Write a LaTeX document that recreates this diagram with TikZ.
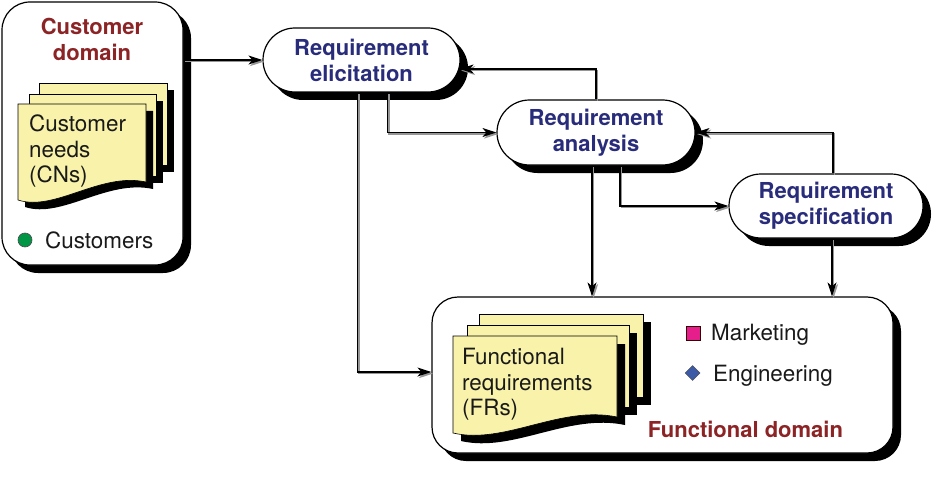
\documentclass[tikz,border=0pt]{standalone}
\usepackage{fontspec}
\setmainfont{TeX Gyre Heros}
\usetikzlibrary{shapes.misc,shapes.geometric,shadows,arrows.meta,calc}
\definecolor{domred}{RGB}{140,36,38}
\definecolor{procblue}{RGB}{40,44,122}
\definecolor{sheet}{RGB}{248,242,170}
\definecolor{dotgreen}{RGB}{0,150,70}
\definecolor{magsq}{RGB}{230,30,140}
\definecolor{diablue}{RGB}{60,90,165}
\definecolor{lineGray}{RGB}{150,150,150}
\newcommand\myconn[1]{%
  \begin{scope}[transform canvas={xshift=1.6pt,yshift=-1.6pt}]\draw[connshade] #1;\end{scope}
  \draw[conn] #1;}
\begin{document}
\begin{tikzpicture}[x=1pt,y=-1pt,
 shad/.style={drop shadow={shadow xshift=8pt,shadow yshift=-8pt,fill=black,opacity=1}},
 process/.style={rounded rectangle, draw=black, line width=1.2pt, fill=white, shad, minimum width=197pt, minimum height=64pt, inner sep=0pt, align=center, font=\fontsize{22}{26}\selectfont\bfseries, text=procblue},
 domainbox/.style={rectangle, rounded corners=28pt, draw=black, line width=1.2pt, fill=white, shad, inner sep=0pt},
 titletext/.style={font=\fontsize{22}{26}\selectfont\bfseries, text=domred, align=center, inner sep=0pt},
 bodytext/.style={font=\fontsize{22.4}{25.5}\selectfont, align=left, inner sep=0pt, text=black!90},
 sheetpage/.style={draw=black, line width=0.6pt, fill=sheet},
 conn/.style={line width=1.2pt, draw=black, -{Stealth[length=14pt,width=9pt,inset=4pt]}},
 connshade/.style={line width=1.4pt, draw=lineGray, -{Stealth[length=14pt,width=9pt,inset=4pt]}}
]
\useasboundingbox (0,0) rectangle (936,492);

% domain boxes
\node[domainbox, minimum width=181pt, minimum height=263pt] (cd) at (92.5,133.5) {};
\node[domainbox, rounded corners=26pt, minimum width=461pt, minimum height=156pt] (fd) at (662.5,375) {};

% process nodes
\node[process] (elic) at (361.5,60) {Requirement\\elicitation};
\node[process, minimum width=198pt, minimum height=65pt] (ana) at (596,132.5) {Requirement\\analysis};
\node[process, minimum width=194pt] (spec) at (826,206) {Requirement\\specification};

% customer domain content
\node[titletext, anchor=north] (cdt) at (92,18) {Customer\\domain};
\fill[black, shift={(7,7)}] (39,83) rectangle (167,165);
\path[sheetpage] (39,83) rectangle (167,165);
\fill[black, shift={(7,7)}] (29,94) rectangle (156,176);
\path[sheetpage] (29,94) rectangle (156,176);
\fill[black, shift={(7,7)}] (18,104) -- (146,104) -- (146,182) .. controls (100,172) and (55,212) .. (18,200) -- cycle;
\path[sheetpage] (18,104) -- (146,104) -- (146,182) .. controls (100,172) and (55,212) .. (18,200) -- cycle;
\node[bodytext, anchor=north west] (cn) at (29,115) {Customer\\needs\\(CNs)};
\node[circle, draw=black!70, line width=0.6pt, fill=dotgreen, minimum size=14pt, inner sep=0pt] (dot) at (25,240) {};
\node[bodytext, anchor=base west] (cus) at (45,248) {Customers};

% functional domain content
\fill[black, shift={(8,8)}] (479,314) rectangle (643,397);
\path[sheetpage] (479,314) rectangle (643,397);
\fill[black, shift={(8,8)}] (467,325) rectangle (629,407);
\path[sheetpage] (467,325) rectangle (629,407);
\fill[black, shift={(8,8)}] (453,336) -- (617,336) -- (617,417) .. controls (560,405) and (505,445) .. (453,433) -- cycle;
\path[sheetpage] (453,336) -- (617,336) -- (617,417) .. controls (560,405) and (505,445) .. (453,433) -- cycle;
\node[bodytext, anchor=north west] (fr) at (462,348) {Functional\\requirements\\(FRs)};
\node[draw=black!80!red, fill=magsq, minimum size=14pt, inner sep=0pt, line width=0.8pt] (msq) at (693,333) {};
\node[bodytext, anchor=base west] (mkt) at (711,340) {Marketing};
\node[diamond, draw=black!70, fill=diablue, minimum size=15pt, inner sep=0pt, line width=0.5pt] (dia) at (692.5,373) {};
\node[bodytext, anchor=base west] (eng) at (713,381) {Engineering};
\node[titletext, anchor=base] (fdt) at (745.5,437) {Functional domain};

% connectors
\coordinate (e1) at ([xshift=-1pt,yshift=-9pt]elic.east);
\coordinate (e4) at ([yshift=3pt]fd.west);
\coordinate (a5) at ([xshift=-4pt]ana.south);
\coordinate (s8) at ([xshift=6pt]spec.south);
\myconn{(cd.east |- elic.west) -- (elic.west)}
\myconn{(ana.north) |- (e1)}
\myconn{([xshift=26pt]elic.south) |- (ana.west)}
\myconn{([xshift=-4pt]elic.south) |- (e4)}
\myconn{(a5) -- (a5 |- fd.north)}
\myconn{([xshift=24pt]ana.south) |- (spec.west)}
\myconn{([xshift=7pt]spec.north) |- (ana.east)}
\myconn{(s8) -- (s8 |- fd.north)}
\end{tikzpicture}
\end{document}
